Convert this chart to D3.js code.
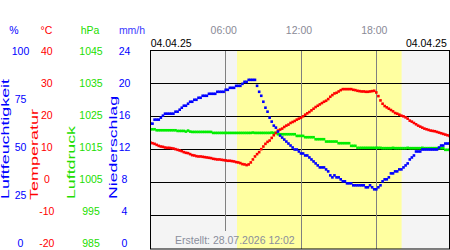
<!DOCTYPE html>
<html><head><meta charset="utf-8">
<script src="https://cdn.jsdelivr.net/npm/d3@7"></script>
<style>body{margin:0;background:#fff}svg{display:block;font-family:"Liberation Sans",Arial,sans-serif}</style>
</head><body><svg id="c" width="450" height="250"></svg>
<script>
// ---- data (10-minute samples, 04.04.25) ----
const humidity=[63,63,65,65,65,66,67,68,68,68,
68,68,69,69,70,71,72,72,73,74,
74,75,75,76,76,77,77,77,78,78,
78,78,79,79,79,79,80,80,81,81,
81,82,82,82,83,84,84,85,85,85,
85,82,79,77,74,71,69,66,64,62,
61,59,57,56,55,54,53,52,51,50,
50,49,48,48,47,47,46,45,44,43,
42,41,41,41,40,39,37,36,37,36,
36,35,34,34,33,33,33,32,32,32,
32,32,32,31,31,32,31,30,30,31,
32,34,35,35,36,38,38,39,39,40,
40,41,42,43,45,46,47,49,49,49,
50,50,50,50,50,50,50,50,51,52,
52,53,53,53];
const temperature=[12.1,11.9,11.7,11.4,11.1,10.9,10.8,10.6,10.5,10.5,
10.4,10.3,10.1,9.9,9.7,9.5,9.2,9.0,8.9,8.6,
8.3,8.2,8.0,7.9,7.9,7.8,7.7,7.6,7.5,7.4,
7.2,7.1,7.0,7.0,6.9,6.8,6.7,6.6,6.6,6.5,
6.4,6.2,6.1,5.9,5.6,5.5,5.3,5.5,6.1,7.0,
7.9,8.6,9.2,10.1,10.9,11.7,12.3,12.7,13.5,14.3,
15.0,15.7,16.0,16.3,16.8,17.2,17.5,18.0,18.3,18.6,
19.0,19.3,19.6,20.0,20.5,20.9,21.3,21.8,22.3,22.8,
23.2,23.6,24.0,24.4,24.7,25.2,25.9,26.4,26.9,27.1,
27.5,27.9,28.2,28.2,28.2,28.2,28.2,28.0,27.9,27.7,
27.6,27.5,27.5,27.4,27.4,27.5,27.6,27.7,27.2,26.1,
24.8,23.8,23.1,22.7,22.3,21.9,21.5,21.0,20.8,20.5,
20.2,20.0,19.7,19.3,18.7,18.4,18.0,17.6,17.2,16.9,
16.6,16.3,16.1,15.9,15.7,15.6,15.5,15.3,15.1,14.9,
14.7,14.5,14.3,14.1];
const pressure=[1021.1,1021.1,1021.1,1020.8,1020.8,1020.8,1020.8,1020.8,1020.8,1020.8,
1020.8,1020.8,1020.8,1020.6,1020.6,1020.6,1020.6,1020.4,1020.7,1020.4,
1020.3,1020.3,1020.3,1020.3,1020.3,1020.3,1020.3,1020.3,1020.3,1020.3,
1020.0,1020.0,1020.0,1020.0,1020.0,1020.0,1020.0,1020.0,1020.0,1020.0,
1020.0,1020.0,1020.0,1020.0,1020.0,1020.0,1020.0,1020.0,1020.0,1020.1,
1020.0,1020.0,1020.0,1020.0,1020.0,1020.0,1020.0,1020.0,1020.1,1020.0,
1020.0,1019.6,1019.6,1019.6,1019.6,1019.6,1019.6,1019.6,1019.6,1019.6,
1019.1,1019.1,1019.1,1019.1,1018.7,1018.7,1018.7,1018.7,1018.7,1018.1,
1018.1,1018.1,1018.1,1018.1,1017.4,1017.4,1017.4,1017.4,1017.4,1017.4,
1016.9,1016.9,1016.9,1016.9,1016.9,1016.9,1016.1,1016.1,1016.1,1015.5,
1015.5,1015.5,1015.5,1015.5,1015.5,1015.5,1015.5,1015.5,1015.5,1015.5,
1015.5,1015.4,1015.4,1015.4,1015.4,1015.4,1015.5,1015.4,1015.4,1015.4,
1015.4,1015.4,1015.4,1015.5,1015.4,1015.4,1015.4,1015.4,1015.4,1015.4,
1015.5,1015.4,1015.4,1015.4,1015.4,1015.4,1015.4,1015.4,1015.4,1015.4,
1015.4,1014.9,1014.9,1014.9];
const precipitation=[];
const stepMinutes=10;
const timeTickMinutes=[360,720,1080];
const timeTickLabels=["06:00","12:00","18:00"];
const humTicks=[100,75,50,25,0];
const tempTicks=[40,30,20,10,0,-10,-20];
const presTicks=[1045,1035,1025,1015,1005,995,985];
const precTicks=[24,20,16,12,8,4,0];
const dateLabel="04.04.25";
const createdLabel="Erstellt: 28.07.2026 12:02";
const sunriseMin=414, sunsetMin=1201;

// ---- layout ----
const L=150.5,R=449.5,T=50.5,B=249;
const BLUE="#0000ff",RED="#ff0000",GREEN="#00ee00";
const FS="10.5px";
const svg=d3.select("#c");
const x=d3.scaleLinear([0,1440],[150.4,451.6]);
const yT=d3.scaleLinear([-20,40],[249,50]);
const yH=d3.scaleLinear([0,100],[249,50]);
const yP=d3.scaleLinear([985,1045],[249,50]);
const yR=d3.scaleLinear([0,24],[249,50]);
// label placement scales
const lT=d3.scaleLinear([-20,40],[243,50.7]);
const lH=d3.scaleLinear([0,100],[243,50.7]);
const lP=d3.scaleLinear([985,1045],[243,50.7]);
const lR=d3.scaleLinear([0,24],[243,50.7]);

svg.append("clipPath").attr("id","pc").append("rect").attr("x",L).attr("y",T).attr("width",R-L).attr("height",B-T);

// background
svg.append("rect").attr("x",L).attr("y",T).attr("width",R-L).attr("height",B-T).attr("fill","#f4f4f4");
svg.append("rect").attr("x",x(sunriseMin)).attr("y",T).attr("width",x(sunsetMin)-x(sunriseMin)).attr("height",B-T).attr("fill","#ffffa0");

// grid
const gridH=tempTicks.filter(v=>v<40&&v>-20);
svg.append("g").selectAll("line").data(gridH).join("line")
 .attr("x1",L).attr("x2",R).attr("y1",d=>Math.floor(yT(d))+0.5).attr("y2",d=>Math.floor(yT(d))+0.5)
 .attr("stroke","#000").attr("stroke-width",1);
const created0=175, created1=297;
svg.append("g").selectAll("line").data(timeTickMinutes).join("line")
 .attr("x1",d=>Math.floor(x(d))+0.5).attr("x2",d=>Math.floor(x(d))+0.5)
 .attr("y1",T).attr("y2",d=>(x(d)>created0&&x(d)<created1)?231:B)
 .attr("stroke","#808080").attr("stroke-width",1);

// series markers
const g=svg.append("g").attr("clip-path","url(#pc)");
const S=2.6;
function markers(vals,ys,color){
  g.append("g").selectAll("rect").data(vals).join("rect")
   .attr("x",(d,i)=>x(i*stepMinutes)-S/2).attr("y",d=>ys(d)-S/2)
   .attr("width",S).attr("height",S).attr("fill",color);
}
markers(pressure,yP,GREEN);
markers(temperature,yT,RED);
markers(humidity,yH,BLUE);
markers(precipitation,yR,BLUE);

// frame
svg.append("rect").attr("x",L).attr("y",T).attr("width",R-L).attr("height",B-T)
 .attr("fill","none").attr("stroke","#000").attr("stroke-width",1);

// top time axis
const ax=svg.append("g").attr("transform","translate(-2.5,33.5)")
 .call(d3.axisTop(x).tickValues(timeTickMinutes).tickFormat((d,i)=>timeTickLabels[i]).tickSize(0).tickPadding(0));
ax.select(".domain").remove();
ax.selectAll("text").attr("fill","#8a8a96").style("font-size",FS).style("font-family","'Liberation Sans',Arial,sans-serif");

// dates
svg.append("text").attr("x",150.7).attr("y",46.7).text(dateLabel).style("font-size",FS).attr("fill","#000");
svg.append("text").attr("x",446.8).attr("y",46.7).attr("text-anchor","end").text(dateLabel).style("font-size",FS).attr("fill","#000");

// left axes
function leftAxis(scale,ticks,cx,color){
  const a=svg.append("g").attr("transform",`translate(${cx},0)`)
   .call(d3.axisLeft(scale).tickValues(ticks).tickFormat(d=>String(d)).tickSize(0).tickPadding(0));
  a.select(".domain").remove();
  a.selectAll("text").attr("x",0).attr("text-anchor","middle").attr("fill",color)
   .style("font-size",FS).style("font-family","'Liberation Sans',Arial,sans-serif");
}
leftAxis(lH,humTicks,20.5,BLUE);
leftAxis(lT,tempTicks,46.8,RED);
leftAxis(lP,presTicks,91,"#22dd00");
leftAxis(lR,precTicks,124.5,BLUE);

// headers
const heads=[["%",14,BLUE],["°C",46.5,RED],["hPa",90,"#22dd00"],["mm/h",132,"#3a3aff"]];
svg.append("g").selectAll("text").data(heads).join("text")
 .attr("x",d=>d[1]).attr("y",33.8).attr("text-anchor","middle").attr("fill",d=>d[2])
 .style("font-size",FS).text(d=>d[0]);

// rotated titles
const titles=[["Luftfeuchtigkeit",9.4,199,120,BLUE],["Temperatur",38,200,91,RED],["Luftdruck",75.4,199,73,"#22dd00"],["Niederschlag",117.4,199,103,BLUE]];
svg.append("g").selectAll("text").data(titles).join("text")
 .attr("transform",d=>`translate(${d[1]},${d[2]}) rotate(-90)`)
 .attr("textLength",d=>d[3]).attr("lengthAdjust","spacingAndGlyphs")
 .attr("fill",d=>d[4]).style("font-size","10px").text(d=>d[0]);

// created label
svg.append("text").attr("x",175).attr("y",244).attr("fill","#8a8e9c").style("font-size",FS).text(createdLabel);
</script></body></html>
